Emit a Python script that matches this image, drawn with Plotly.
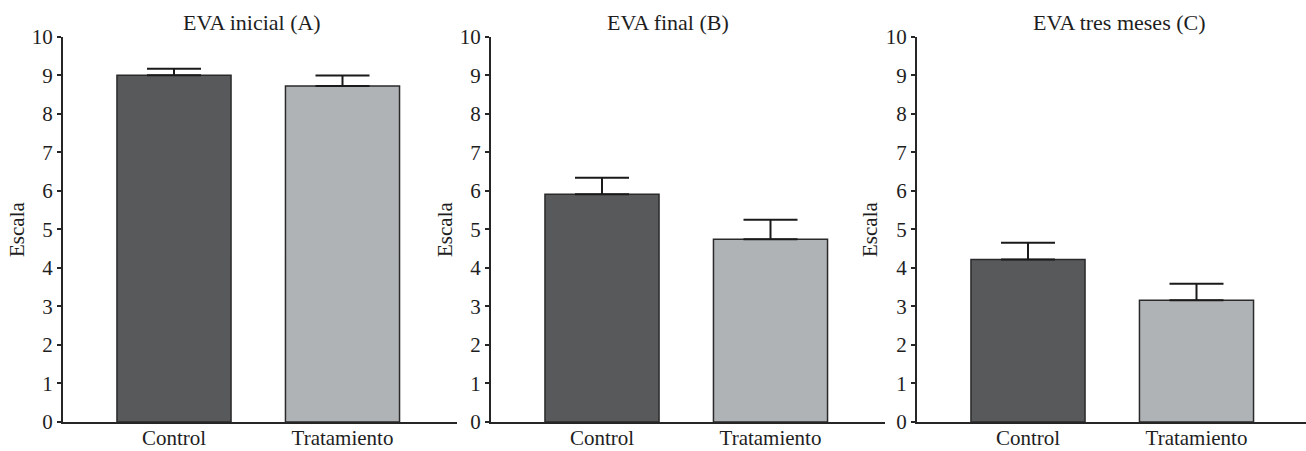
import plotly.graph_objects as go

# Grupos y paneles
categorias = ["Control", "Tratamiento"]
titulos = ["EVA inicial (A)", "EVA final (B)", "EVA tres meses (C)"]

# Medias de la escala EVA por panel
eva_inicial = [9.0, 8.72]
eva_final = [5.91, 4.74]
eva_tres_meses = [4.22, 3.16]

# Error (solo hacia arriba) por panel
err_inicial = [0.17, 0.27]
err_final = [0.43, 0.51]
err_tres_meses = [0.43, 0.43]

y_ticks = list(range(0, 11))
y_label = "Escala"

medias = [eva_inicial, eva_final, eva_tres_meses]
errores = [err_inicial, err_final, err_tres_meses]

W, H = 1306, 451
FONT = "Liberation Serif"
TXT = "#1e1e1e"
AXC = "#262626"
colores = ["#58595b", "#b0b3b6"]

# Posiciones de los paneles en píxeles
ejes_x = [(63, 457), (491, 885), (917, 1306)]
y_cero, y_diez = 422, 36.7
titulo_x = [252, 668, 1119]
etiqueta_y_x = [17, 445, 870]
px_por_cat = 168.5
off_cat = 111

fig = go.Figure()
layout = dict(
    width=W, height=H,
    margin=dict(l=0, r=0, t=0, b=0),
    paper_bgcolor="white", plot_bgcolor="white",
    showlegend=False,
    font=dict(family=FONT, size=21, color=TXT),
    annotations=[],
)

for i in range(3):
    sfx = "" if i == 0 else str(i + 1)
    x0, x1 = ejes_x[i]
    r0 = -off_cat / px_por_cat
    r1 = r0 + (x1 - x0) / px_por_cat
    fig.add_trace(go.Bar(
        x=categorias, y=medias[i],
        width=0.677,
        marker=dict(color=colores, line=dict(color="#2a2a2a", width=1.5)),
        error_y=dict(type="data", symmetric=False, array=errores[i],
                     arrayminus=[0, 0], color="#1a1a1a", thickness=2, width=27),
        xaxis="x" + sfx, yaxis="y" + sfx,
    ))
    layout["xaxis" + sfx] = dict(
        domain=[x0 / W, x1 / W], anchor="y" + sfx,
        range=[r0, r1], type="category", automargin=False,
        showline=True, linecolor=AXC, linewidth=2,
        ticks="", showgrid=False, zeroline=False,
        ticklabelstandoff=-4,
        tickfont=dict(family=FONT, size=21, color=TXT),
    )
    layout["yaxis" + sfx] = dict(
        domain=[1 - y_cero / H, 1 - y_diez / H], anchor="x" + sfx,
        range=[0, 10], tickvals=y_ticks, automargin=False,
        showline=True, linecolor=AXC, linewidth=2,
        ticks="outside", ticklen=4, tickwidth=1.5, tickcolor=AXC,
        showgrid=False, zeroline=False,
        tickfont=dict(family=FONT, size=21, color=TXT),
    )
    layout["annotations"].append(dict(
        text=titulos[i], xref="paper", yref="paper",
        x=titulo_x[i] / W, y=1 - 22 / H, xanchor="center", yanchor="middle",
        showarrow=False, font=dict(family=FONT, size=22, color=TXT),
    ))
    layout["annotations"].append(dict(
        text=y_label, xref="paper", yref="paper", textangle=-90,
        x=etiqueta_y_x[i] / W, y=1 - 230 / H, xanchor="center", yanchor="middle",
        showarrow=False, font=dict(family=FONT, size=21, color=TXT),
    ))

fig.update_layout(**layout)
fig.write_html("out.html")
